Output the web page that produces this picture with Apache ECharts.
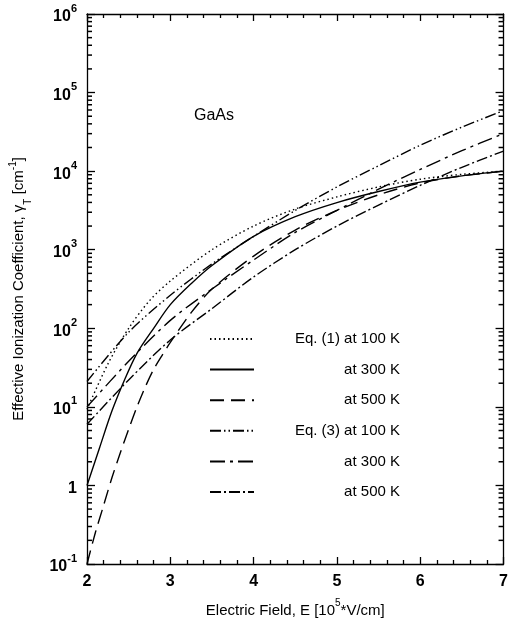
<!DOCTYPE html>
<html><head><meta charset="utf-8">
<script src="https://cdn.jsdelivr.net/npm/echarts@6/dist/echarts.min.js"></script>
<style>html,body{margin:0;padding:0;background:#fff}#c{width:511px;height:629px}</style>
</head><body><div id="c"></div>
<script>
// Electric field values (10^5 V/cm) and ionization coefficients (cm^-1)
const fieldA = [2, 2.25, 2.5, 2.75, 3, 3.5, 4, 4.5, 5, 5.5, 6, 6.5, 7];
const eq1_100K = [9.3, 35, 100, 224, 400, 1000, 2000, 3300, 4700, 6300, 7900, 9100, 10000];

const fieldB = [2, 2.15, 2.3, 2.45, 2.6, 2.8, 3, 3.25, 3.5, 4, 4.5, 5, 5.5, 6, 6.5, 7];
const eq1_300K = [1, 3.0, 8.9, 22, 48, 100, 200, 370, 630, 1480, 2630, 3980, 5500, 7240, 8700, 10000];

const fieldC = [2, 2.1, 2.2, 2.3, 2.4, 2.5, 2.6, 2.7, 2.8, 2.9, 3, 3.25, 3.5, 4, 4.5, 5, 5.5, 6, 6.5, 7];
const eq1_500K = [0.1, 0.25, 0.56, 1.26, 2.6, 5.2, 10, 18, 30, 45, 66, 158, 316, 830, 1780, 3160, 5000, 7080, 8700, 10000];

const fieldD = [2, 2.5, 3, 3.5, 4, 4.5, 5, 5.5, 6, 6.5, 7];
const eq3_100K = [21, 89, 263, 660, 1480, 3160, 6300, 11700, 21400, 36300, 59000];
const eq3_300K = [10, 38, 126, 316, 740, 1660, 3160, 5900, 10500, 18200, 30000];
const eq3_500K = [6, 22, 71, 178, 450, 1000, 2000, 3700, 6600, 11200, 18000];

const seriesNames = ['Eq. (1) at 100 K', 'Eq. (1) at 300 K', 'Eq. (1) at 500 K', 'Eq. (3) at 100 K', 'Eq. (3) at 300 K', 'Eq. (3) at 500 K'];
const legendLabels = ['Eq. (1) at 100 K', 'at 300 K', 'at 500 K', 'Eq. (3) at 100 K', 'at 300 K', 'at 500 K'];

const xTicks = [2, 3, 4, 5, 6, 7];
const yDecades = [0.1, 1, 10, 100, 1000, 10000, 100000];
const minorMultipliers = [2, 3, 4, 5, 6, 7, 8, 9];

function pairs(xs, ys) { return xs.map((x, i) => [x, ys[i]]); }

const dashes = [
  [1.5, 3],
  'solid',
  [14, 7],
  [11, 3, 1.5, 3, 1.5, 3],
  [15, 5, 3, 5],
  [11, 3, 2, 3]
];
const datasets = [
  pairs(fieldA, eq1_100K),
  pairs(fieldB, eq1_300K),
  pairs(fieldC, eq1_500K),
  pairs(fieldD, eq3_100K),
  pairs(fieldD, eq3_300K),
  pairs(fieldD, eq3_500K)
];

// log-axis minor tick positions (2..9 x each decade), on the left (x=2) and right (x=7) frame
const minorTickValues = [];
[2, 7].forEach(side => yDecades.forEach(d => minorMultipliers.forEach(m => minorTickValues.push([side, m * d]))));

const font = 'Liberation Sans, Arial, sans-serif';
const chart = echarts.init(document.getElementById('c'), null, {renderer: 'canvas'});

function yLabel(v) {
  const p = Math.round(Math.log10(v));
  if (p === 0) return '{b|1}';
  return '{b|10}{s|' + p + '}';
}

const axisLineStyle = {color: '#000', width: 1.3};

const series = datasets.map((d, i) => ({
  name: seriesNames[i], type: 'line', data: d, xAxisIndex: 0, yAxisIndex: 0,
  smooth: 0.3, symbol: 'none', showSymbol: false,
  lineStyle: {color: '#000', width: 1.4, type: dashes[i]},
  itemStyle: {color: '#000'}
}));
series.push({
  name: 'minorTicks', type: 'custom', xAxisIndex: 0, yAxisIndex: 0, clip: false, z: 5,
  data: minorTickValues,
  renderItem: (params, api) => {
    const x = api.value(0);
    const p = api.coord([x, api.value(1)]);
    const dir = x < 4 ? 1 : -1;
    return {type: 'line', shape: {x1: p[0], y1: p[1], x2: p[0] + dir * 5, y2: p[1]}, style: {stroke: '#000', lineWidth: 1.5}};
  }
});

chart.setOption({
  animation: false,
  backgroundColor: '#fff',
  title: {
    text: 'GaAs', left: 189, top: 103,
    textStyle: {fontFamily: font, fontSize: 16, fontWeight: 'normal', color: '#000'}
  },
  grid: {left: 87, right: 4, top: 14, bottom: 65},
  legend: {
    orient: 'vertical', left: 204, top: 326,
    itemWidth: 44, itemHeight: 14, itemGap: 14.6, textGap: 5,
    data: seriesNames,
    itemStyle: {opacity: 0, borderWidth: 0},
    formatter: name => '{a|' + legendLabels[seriesNames.indexOf(name)] + '}',
    textStyle: {
      fontFamily: font, fontSize: 15, color: '#000', lineHeight: 16,
      rich: {a: {width: 141, align: 'right', fontFamily: font, fontSize: 15, color: '#000'}}
    }
  },
  xAxis: [{
    type: 'value', min: 2, max: 7, interval: 1, position: 'bottom',
    name: '{t|Electric Field, E [10}{s|5}{t|*V/cm]}',
    nameLocation: 'middle', nameGap: 34,
    nameTextStyle: {rich: {
      t: {fontFamily: font, fontSize: 15, color: '#000', lineHeight: 20, verticalAlign: 'bottom'},
      s: {fontFamily: font, fontSize: 10, color: '#000', lineHeight: 10, verticalAlign: 'top'}
    }},
    axisLine: {lineStyle: axisLineStyle},
    axisTick: {inside: true, length: 7, lineStyle: axisLineStyle},
    minorTick: {show: true, splitNumber: 5, length: 4, lineStyle: {color: '#000', width: 1.3}},
    splitLine: {show: false},
    axisLabel: {fontFamily: font, fontSize: 16, fontWeight: 'bold', color: '#000', margin: 10,
      formatter: v => xTicks.includes(v) ? String(v) : ''}
  }, {
    type: 'value', min: 2, max: 7, interval: 1, position: 'top',
    axisLine: {lineStyle: axisLineStyle},
    axisTick: {inside: true, length: 7, lineStyle: axisLineStyle},
    minorTick: {show: true, splitNumber: 5, length: 4, lineStyle: {color: '#000', width: 1.3}},
    splitLine: {show: false}, axisLabel: {show: false}
  }],
  yAxis: [{
    type: 'log', logBase: 10, min: 0.1, max: 1e6, position: 'left',
    name: '{t|Effective Ionization Coefficient, γ}{u|T}{t| [cm}{s|-1}{t|]}',
    nameLocation: 'middle', nameGap: 57, nameRotate: 90,
    nameTextStyle: {rich: {
      t: {fontFamily: font, fontSize: 15, color: '#000', lineHeight: 22},
      u: {fontFamily: font, fontSize: 10, color: '#000', lineHeight: 22, verticalAlign: 'bottom', padding: [0, 0, -3, 0]},
      s: {fontFamily: font, fontSize: 10, color: '#000', lineHeight: 10, verticalAlign: 'top'}
    }},
    axisLine: {lineStyle: axisLineStyle},
    axisTick: {inside: true, length: 8, lineStyle: axisLineStyle},
    minorTick: {show: false},
    splitLine: {show: false},
    axisLabel: {
      margin: 10, formatter: yLabel,
      rich: {
        b: {fontFamily: font, fontSize: 16, fontWeight: 'bold', color: '#000', lineHeight: 22, verticalAlign: 'bottom'},
        s: {fontFamily: font, fontSize: 11, fontWeight: 'bold', color: '#000', lineHeight: 12, verticalAlign: 'top'}
      }
    }
  }, {
    type: 'log', logBase: 10, min: 0.1, max: 1e6, position: 'right',
    axisLine: {lineStyle: axisLineStyle},
    axisTick: {inside: true, length: 8, lineStyle: axisLineStyle},
    minorTick: {show: false},
    splitLine: {show: false}, axisLabel: {show: false}
  }],
  series: series
});
</script></body></html>
